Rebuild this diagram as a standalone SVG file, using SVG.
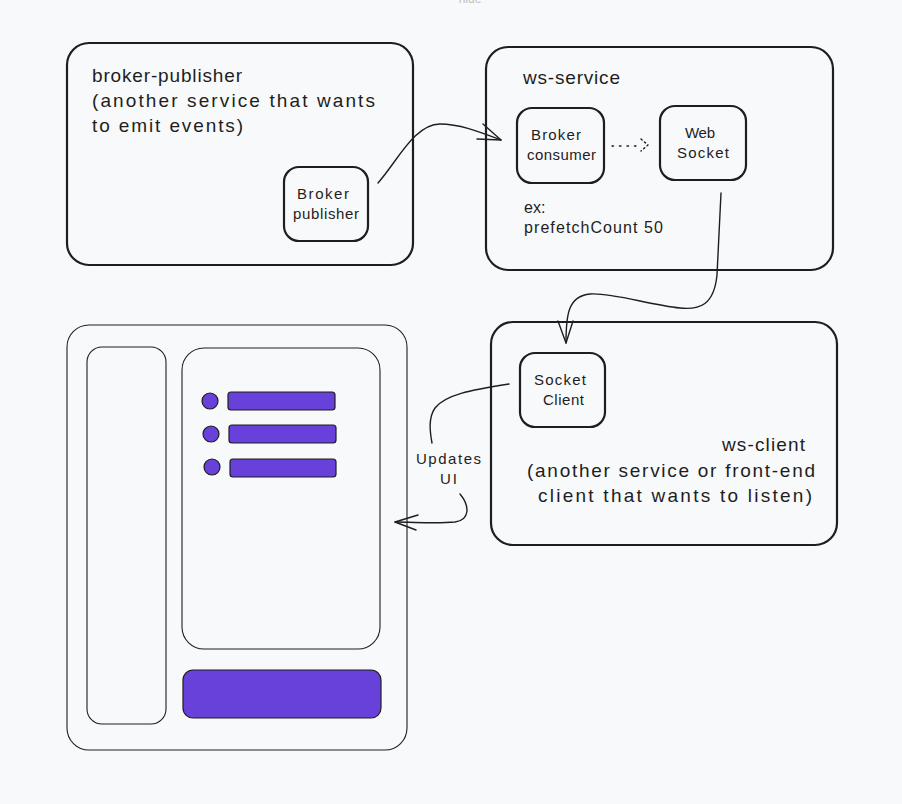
<svg xmlns="http://www.w3.org/2000/svg" width="902" height="804" viewBox="0 0 902 804">
<defs>
<style>
.bg{fill:#f8f9fa}
.box{fill:none;stroke:#1e1e1e;stroke-width:2.2}
.thin{fill:none;stroke:#1e1e1e;stroke-width:1.1}
.ui{fill:#6741d9;stroke:#1e1e1e;stroke-width:1.2}
.conn{fill:none;stroke:#1e1e1e;stroke-width:1.4;stroke-linecap:round;stroke-linejoin:round}
.t{font-family:"Liberation Sans","DejaVu Sans",sans-serif;fill:#1e1e1e}
.big{font-size:19px}
.med{font-size:16px}
.sm{font-size:15px}
</style>
</defs>
<rect class="bg" x="0" y="0" width="902" height="804"/>
<text class="t" x="470" y="3" font-size="12" style="fill:#c0c0c0" text-anchor="middle">hide</text>

<g id="broker-publisher">
<rect class="box" x="67" y="43" width="346" height="222" rx="22"/>
<text class="t big" x="92" y="82" textLength="150" lengthAdjust="spacing">broker-publisher</text>
<text class="t big" x="92" y="107" textLength="283" lengthAdjust="spacing">(another service that wants</text>
<text class="t big" x="92" y="132" textLength="151" lengthAdjust="spacing">to emit events)</text>
</g>
<g id="broker-publisher-node">
<rect class="box" x="284" y="167" width="84" height="74" rx="15"/>
<text class="t sm" x="297" y="199" textLength="52" lengthAdjust="spacing">Broker</text>
<text class="t sm" x="293" y="219" textLength="66" lengthAdjust="spacing">publisher</text>
</g>

<g id="ws-service">
<rect class="box" x="486" y="47" width="347" height="223" rx="22"/>
<text class="t big" x="523" y="84" textLength="97" lengthAdjust="spacing">ws-service</text>
<text class="t med" x="524" y="213">ex:</text>
<text class="t med" x="524" y="233" textLength="139" lengthAdjust="spacing">prefetchCount 50</text>
</g>
<g id="broker-consumer">
<rect class="box" x="517" y="108" width="87" height="75" rx="15"/>
<text class="t sm" x="531" y="140" textLength="50" lengthAdjust="spacing">Broker</text>
<text class="t sm" x="527" y="160" textLength="69" lengthAdjust="spacing">consumer</text>
</g>
<g id="web-socket">
<rect class="box" x="660" y="106" width="86" height="74" rx="15"/>
<text class="t sm" x="685" y="138" textLength="30" lengthAdjust="spacing">Web</text>
<text class="t sm" x="677" y="158" textLength="52" lengthAdjust="spacing">Socket</text>
</g>

<g id="ws-client">
<rect class="box" x="491" y="322" width="346" height="223" rx="22"/>
<text class="t big" x="722" y="451" textLength="83" lengthAdjust="spacing">ws-client</text>
<text class="t big" x="527" y="477" textLength="288" lengthAdjust="spacing">(another service or front-end</text>
<text class="t big" x="538" y="502" textLength="274" lengthAdjust="spacing">client that wants to listen)</text>
</g>
<g id="socket-client">
<rect class="box" x="520" y="353" width="85" height="74" rx="15"/>
<text class="t sm" x="534" y="385" textLength="52" lengthAdjust="spacing">Socket</text>
<text class="t sm" x="543" y="405" textLength="41" lengthAdjust="spacing">Client</text>
</g>

<g id="ui-mockup">
<rect class="thin" x="67" y="325" width="340" height="425" rx="22"/>
<rect class="thin" x="87" y="347" width="79" height="377" rx="15"/>
<rect class="thin" x="182" y="348" width="198" height="301" rx="22"/>
<circle class="ui" cx="210" cy="401" r="8"/>
<rect class="ui" x="228" y="392" width="107" height="18" rx="3"/>
<circle class="ui" cx="211" cy="434" r="8"/>
<rect class="ui" x="229" y="425" width="107" height="18" rx="3"/>
<circle class="ui" cx="212" cy="467" r="8"/>
<rect class="ui" x="230" y="459" width="106" height="18" rx="3"/>
<rect class="ui" x="183" y="670" width="198" height="48" rx="10"/>
</g>

<g id="connectors">
<path class="conn" d="M378,183 C398,160 415,124 440,124 C460,124 480,132 501,140"/>
<path class="conn" d="M483,124 L501,140 L477,139"/>
<path class="conn" d="M612,146 L640,146" stroke-dasharray="1.5 6"/>
<path class="conn" d="M641,139 L648,145 L641,151" stroke-dasharray="1.5 3"/>
<path class="conn" d="M721,193 L717,275 C714,305 700,310 680,308 C650,305 610,292 590,294 C568,296 566,315 566,343"/>
<path class="conn" d="M558,321 L566,343 L573,321"/>
<path class="conn" d="M509,384 C470,390 445,395 435,408 C428,418 430,432 432,443" stroke="#555" stroke-width="2"/>
<text class="t sm" x="416" y="464" textLength="65" lengthAdjust="spacing">Updates</text>
<text class="t sm" x="440" y="484" textLength="17" lengthAdjust="spacing">UI</text>
<path class="conn" d="M460,494 C470,506 470,520 455,522 C435,524 415,522 395,522"/>
<path class="conn" d="M418,515 L395,522 L416,530"/>
</g>
</svg>
